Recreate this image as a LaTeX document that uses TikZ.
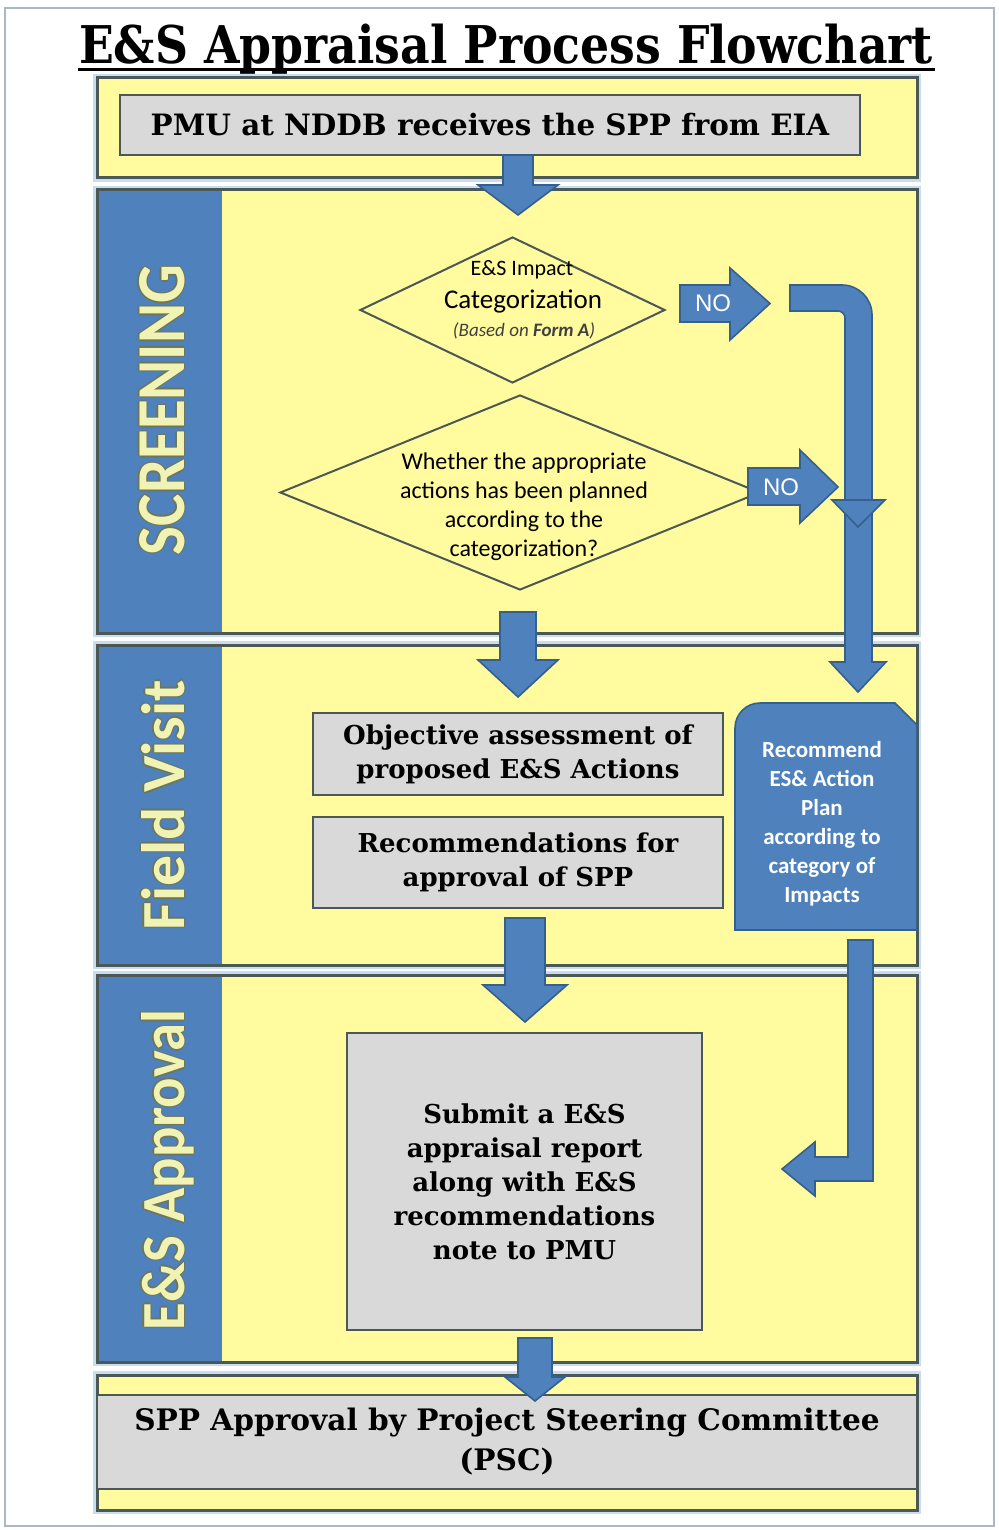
\documentclass[tikz,border=0pt]{standalone}
\usepackage{fontspec}
\usepackage{graphicx}
\usetikzlibrary{shapes.geometric}
\setmainfont{DejaVu Serif}
\newfontfamily\dser{DejaVu Serif}[FakeStretch=0.88]
\newfontfamily\dserw{DejaVu Serif}
\newfontfamily\carl{Carlito}
\newfontfamily\libs{Liberation Sans}
\definecolor{byel}{HTML}{FFFB9E}
\definecolor{bblue}{HTML}{4F81BD}
\definecolor{bbluedk}{HTML}{34608F}
\definecolor{bgray}{HTML}{D9D9D9}
\definecolor{bline}{HTML}{4A5856}
\definecolor{halo}{HTML}{C9DCF0}
\definecolor{lanetxt}{HTML}{F1F3B4}
\definecolor{laneol}{HTML}{6E7658}
\definecolor{frame}{HTML}{A8B8C8}
\newcommand\outl[1]{\rlap{\color{laneol}\hspace{0.7pt}#1}\rlap{\color{laneol}\hspace{-0.7pt}#1}\rlap{\color{laneol}\raisebox{0.7pt}{#1}}\rlap{\color{laneol}\raisebox{-0.7pt}{#1}}{\color{lanetxt}#1}}
\newcommand\lanelab[3]{\outl{\resizebox{#2}{#3}{\carl\bfseries #1}}}
\newcommand\darr[6]{\draw[barrow] (#1-#5,#2) -- (#1+#5,#2) -- (#1+#5,#3) -- (#1+#6,#3) -- (#1,#4) -- (#1-#6,#3) -- (#1-#5,#3) -- cycle;}
\begin{document}
\begin{tikzpicture}[x=0.5pt,y=-0.5pt,
  band/.style={fill=byel, draw=bline, line width=1.5pt},
  halob/.style={draw=halo, line width=4pt},
  gbox/.style={rectangle, fill=bgray, draw=bline, line width=1.2pt, inner sep=0pt, align=center, font=\dserw\bfseries\fontsize{13}{17}\selectfont},
  barrow/.style={fill=bblue, draw=bbluedk, line width=0.8pt, line join=miter},
  dia/.style={diamond, draw=bline, line width=1pt, inner sep=0pt},
  dtxt/.style={anchor=base, inner sep=0pt},
  notext/.style={text=white, font=\libs\fontsize{12}{14}\selectfont, inner sep=0pt},
  lane/.style={rotate=90, anchor=base, inner sep=0pt}]
\useasboundingbox (0,0) rectangle (999,1530);
\fill[white] (0,0) rectangle (999,1530);
\draw[frame, line width=1.2pt] (5,8) rectangle (994,1526);

% title
\node (title) [font=\dser\bfseries\fontsize{26}{30}\selectfont, inner sep=0pt, anchor=base] at (506,64) {E\&S Appraisal Process Flowchart};
\draw[line width=1.5pt] (78,70) -- (935,70);

% bands
\foreach \t/\b in {78/178,190/633,645/965,975/1362,1375/1510}{
  \draw[halob] (97,\t) rectangle (917,\b);
  \fill[byel] (97,\t) rectangle (917,\b);
}
\fill[bblue] (97,190) rectangle (222,633);
\fill[bblue] (97,645) rectangle (222,965);
\fill[bblue] (97,975) rectangle (222,1362);
\foreach \t/\b in {78/178,190/633,645/965,975/1362,1375/1510}{
  \draw[bline, line width=1.5pt] (97,\t) rectangle (917,\b);
}

% lane labels
\node (lscr) [lane] at (184,410) {\lanelab{SCREENING}{145pt}{22.5pt}};
\node (lfield) [lane] at (184,805) {\lanelab{Field Visit}{125pt}{21.5pt}};
\node (lappr) [lane] at (184,1170) {\lanelab{E\&S Approval}{160pt}{21.5pt}};

% boxes
\node (pmu) [gbox, font=\dserw\bfseries\fontsize{14.7}{17}\selectfont, minimum width=370pt, minimum height=30pt] at (490,125) {PMU at NDDB receives the SPP from EIA};
\node (obj) [gbox, minimum width=205pt, minimum height=41pt] at (518,754) {Objective assessment of\\proposed E\&S Actions};
\node (recs) [gbox, minimum width=205pt, minimum height=45.5pt] at (518,862.5) {Recommendations for\\approval of SPP};
\node (sub) [gbox, minimum width=177.5pt, minimum height=148.5pt] at (524.5,1181.5) {Submit a E\&S\\appraisal report\\along with E\&S\\recommendations\\note to PMU};
\node (psc) [gbox, font=\dserw\bfseries\fontsize{14.8}{20}\selectfont, minimum width=410pt, minimum height=47pt] at (507,1442) {SPP Approval by Project Steering Committee\\(PSC)};

% diamonds
\node (d1) [dia, minimum width=152.5pt, minimum height=73pt] at (512.5,310) {};
\node (d2) [dia, minimum width=240pt, minimum height=97.5pt] at (520,492.5) {};
\node (d1a) [dtxt, font=\carl\fontsize{11}{13}\selectfont] at (522,276) {E\&S Impact};
\node (d1b) [dtxt, font=\carl\fontsize{13.5}{15}\selectfont] at (523,308) {Categorization};
\node (d1c) [dtxt, font=\carl\fontsize{9.5}{11}\selectfont\itshape, text=black!75] at (524,336) {(Based on \textbf{Form A})};
\node (d2t) [align=center, inner sep=0pt, font=\carl\fontsize{12}{14.5}\selectfont] at (524,507) {Whether the appropriate\\actions has been planned\\according to the\\categorization?};

% recommend box
\draw[barrow] (735,930) -- (735,728) arc[start angle=180, end angle=270, radius=25] -- (895,703) -- (917,725) -- (917,930) -- cycle;
\node (rec) [align=center, text=white, inner sep=0pt, font=\carl\bfseries\fontsize{11.5}{14.5}\selectfont] at (822,824) {Recommend\\ES\& Action\\Plan\\according to\\category of\\Impacts};

% straight block arrows
\darr{518}{155}{185}{215}{15}{40}
\darr{518}{612}{660}{697}{18}{40}
\darr{525}{918}{985}{1022}{20}{42}
\darr{535}{1338}{1377}{1401}{17}{30}

% NO arrows
\draw[barrow] (680,285) -- (730,285) -- (730,268) -- (770,303.5) -- (730,340) -- (730,322) -- (680,322) -- cycle;
\node (no1) [notext] at (713,303.5) {NO};
\draw[barrow] (748,468) -- (800,468) -- (800,450) -- (838,487) -- (800,523) -- (800,505) -- (748,505) -- cycle;
\node (no2) [notext] at (781,487) {NO};

% bent arrow from NO to recommend
\draw[barrow] (790,285) -- (842,285) arc[start angle=270, end angle=360, radius=30] -- (872,662) -- (886,662) -- (858,692) -- (830,662) -- (845,662) -- (845,318) arc[start angle=0, end angle=-90, radius=7] -- (790,311) -- cycle;
\draw[barrow] (832,500) -- (885,500) -- (858,527) -- cycle;

% bent arrow recommend -> submit
\draw[barrow] (848,940) -- (873,940) -- (873,1181) -- (815,1181) -- (815,1196) -- (782,1169) -- (815,1142) -- (815,1157) -- (848,1157) -- cycle;
\end{tikzpicture}
\end{document}
